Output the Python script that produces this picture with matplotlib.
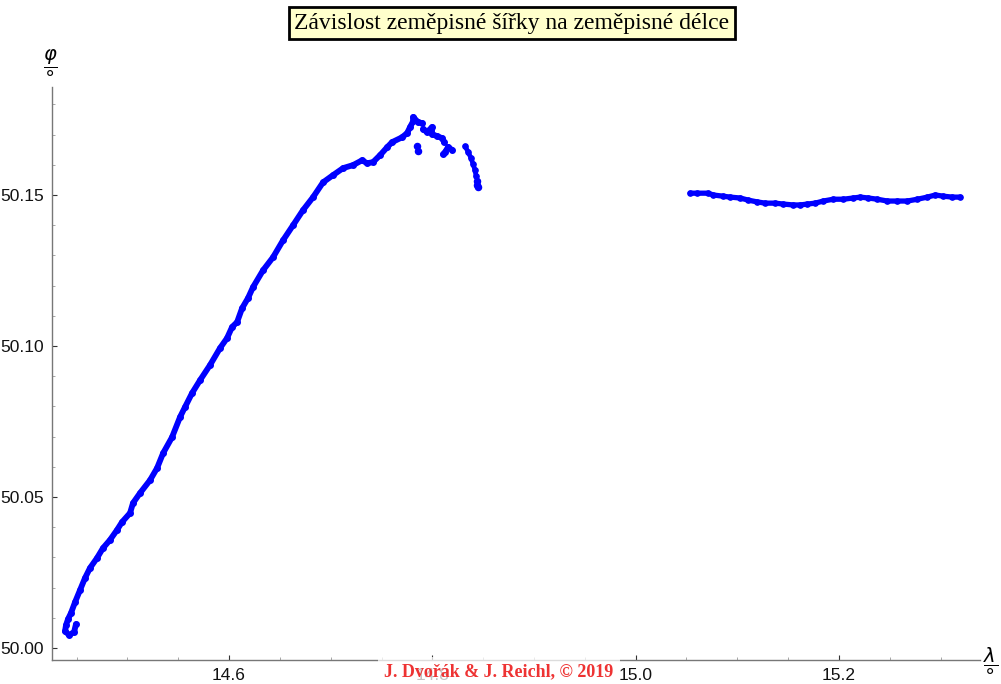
import matplotlib

matplotlib.use("Agg")
import matplotlib.pyplot as plt
from matplotlib.ticker import MultipleLocator, FormatStrFormatter

# main track (continuous part), longitude / latitude in degrees
lon_main = [14.4494, 14.4475, 14.4426, 14.4386, 14.4396, 14.4416, 14.4445, 14.4485,
            14.4534, 14.4583, 14.4632, 14.4701, 14.4760, 14.4829, 14.4898, 14.4947,
            14.5026, 14.5055, 14.5124, 14.5223, 14.5292, 14.5351, 14.5439, 14.5518,
            14.5567, 14.5636, 14.5715, 14.5813, 14.5911, 14.5980, 14.6030, 14.6079,
            14.6128, 14.6187, 14.6236, 14.6335, 14.6433, 14.6531, 14.6630, 14.6728,
            14.6827, 14.6925, 14.7024, 14.7122, 14.7220, 14.7309, 14.7358, 14.7417,
            14.7486, 14.7555, 14.7604, 14.7702, 14.7752, 14.7781, 14.7811, 14.7811,
            14.7860, 14.7899]
lat_main = [50.0079, 50.0053, 50.0043, 50.0056, 50.0076, 50.0096, 50.0116, 50.0152,
            50.0192, 50.0232, 50.0265, 50.0298, 50.0331, 50.0358, 50.0391, 50.0417,
            50.0447, 50.0480, 50.0513, 50.0556, 50.0596, 50.0645, 50.0698, 50.0765,
            50.0798, 50.0844, 50.0887, 50.0937, 50.0993, 50.1026, 50.1063, 50.1079,
            50.1125, 50.1159, 50.1195, 50.1251, 50.1294, 50.1350, 50.1400, 50.1450,
            50.1493, 50.1542, 50.1566, 50.1589, 50.1599, 50.1615, 50.1605, 50.1609,
            50.1632, 50.1658, 50.1675, 50.1691, 50.1705, 50.1725, 50.1744, 50.1758,
            50.1741, 50.1738]

# cluster just after the peak
lon_peak = [14.7909, 14.7948, 14.7997, 14.7997, 14.8047, 14.8096, 14.8116]
lat_peak = [50.1718, 50.1708, 50.1725, 50.1701, 50.1695, 50.1688, 50.1675]

# stray fixes
lon_stray = [14.7850, 14.7860]
lat_stray = [50.1662, 50.1646]
lon_pair = [14.8106, 14.8125, 14.8155, 14.8194]
lat_pair = [50.1635, 50.1642, 50.1659, 50.1649]

# descending arc before the gap
lon_arc = [14.8322, 14.8352, 14.8381, 14.8401, 14.8420, 14.8430]
lat_arc = [50.1662, 50.1642, 50.1622, 50.1602, 50.1582, 50.1562]
lon_arc_end = [14.8440, 14.8440, 14.8450]
lat_arc_end = [50.1546, 50.1533, 50.1526]

# eastern part of the track
lon_east = [15.0537, 15.0606, 15.0714, 15.0764, 15.0862, 15.0931, 15.1029, 15.1108,
            15.1197, 15.1275, 15.1374, 15.1453, 15.1551, 15.1620, 15.1689, 15.1767,
            15.1846, 15.1944, 15.2043, 15.2141, 15.2210, 15.2289, 15.2378, 15.2476,
            15.2575, 15.2673, 15.2772, 15.2870, 15.2949, 15.3028, 15.3116, 15.3195]
lat_east = [50.1506, 50.1506, 50.1506, 50.1500, 50.1496, 50.1493, 50.1490, 50.1483,
            50.1477, 50.1473, 50.1473, 50.1470, 50.1467, 50.1467, 50.1470, 50.1473,
            50.1480, 50.1486, 50.1486, 50.1490, 50.1493, 50.1490, 50.1486, 50.1480,
            50.1480, 50.1480, 50.1486, 50.1493, 50.1500, 50.1496, 50.1493, 50.1493]

X_TICKS = [14.6, 14.8, 15.0, 15.2]
Y_TICKS = [50.00, 50.05, 50.10, 50.15]

BLUE = "#0000ff"
AXIS_GRAY = "#777777"

fig = plt.figure(figsize=(10.01, 6.84), dpi=100)
W, H = 1001, 684
ax = fig.add_axes([52 / W, (H - 660) / H, (980 - 52) / W, (660 - 87) / H])
ax.set_xlim(14.4258, 15.3388)
ax.set_ylim(49.99603, 50.18576)

line_kw = dict(color=BLUE, lw=4.2, marker="o", ms=4.0, solid_capstyle="round",
               solid_joinstyle="round", zorder=3)
dot_kw = dict(color=BLUE, ls="none", marker="o", ms=4.4, zorder=3)
ax.plot(lon_main, lat_main, **line_kw)
ax.plot(lon_peak, lat_peak, **line_kw)
ax.plot(lon_pair, lat_pair, **line_kw)
ax.plot(lon_arc, lat_arc, **{**line_kw, "lw": 3.4, "ms": 3.8})
ax.plot(lon_east, lat_east, **{**line_kw, "lw": 3.8, "ms": 3.8})
ax.plot(lon_stray, lat_stray, **dot_kw)
ax.plot(lon_arc_end, lat_arc_end, **dot_kw)

for side in ("top", "right"):
    ax.spines[side].set_visible(False)
for side in ("left", "bottom"):
    ax.spines[side].set_color(AXIS_GRAY)
    ax.spines[side].set_linewidth(1.0)

ax.set_xticks(X_TICKS)
ax.set_yticks(Y_TICKS)
ax.xaxis.set_minor_locator(MultipleLocator(0.05))
ax.yaxis.set_minor_locator(MultipleLocator(0.01))
ax.xaxis.set_major_formatter(FormatStrFormatter("%.1f"))
ax.yaxis.set_major_formatter(FormatStrFormatter("%.2f"))
ax.tick_params(which="major", direction="in", length=3.5, width=0.8, color="#333333",
               labelsize=12.5, labelcolor="#111111", pad=6)
ax.tick_params(which="minor", direction="in", length=2.0, width=0.6, color="#999999")
for lab in ax.get_xticklabels() + ax.get_yticklabels():
    lab.set_fontfamily("Liberation Sans")

# axis labels as fractions, Mathematica style
fig.text(50 / W, 1 - 62 / H, r"$\dfrac{\varphi}{\circ}$", ha="center", va="center",
         fontsize=14)
fig.text(991 / W, 1 - 660 / H, r"$\dfrac{\lambda}{\circ}$", ha="center", va="center",
         fontsize=14)

fig.text(512 / W, 1 - 23 / H, "Závislost zeměpisné šířky na zeměpisné délce",
         ha="center", va="center", fontsize=17, family="Liberation Serif",
         bbox=dict(boxstyle="square,pad=0.22", facecolor="#ffffcc", edgecolor="black",
                   linewidth=2))

fig.text(499 / W, 1 - 672 / H, "J. Dvořák & J. Reichl, © 2019", ha="center",
         va="center", fontsize=13, family="Liberation Serif", weight="bold",
         color="#ee3333",
         bbox=dict(boxstyle="square,pad=0.35", facecolor="white", edgecolor="none",
                   alpha=0.75))

fig.savefig("out.png", dpi=100)
plt.close(fig)
